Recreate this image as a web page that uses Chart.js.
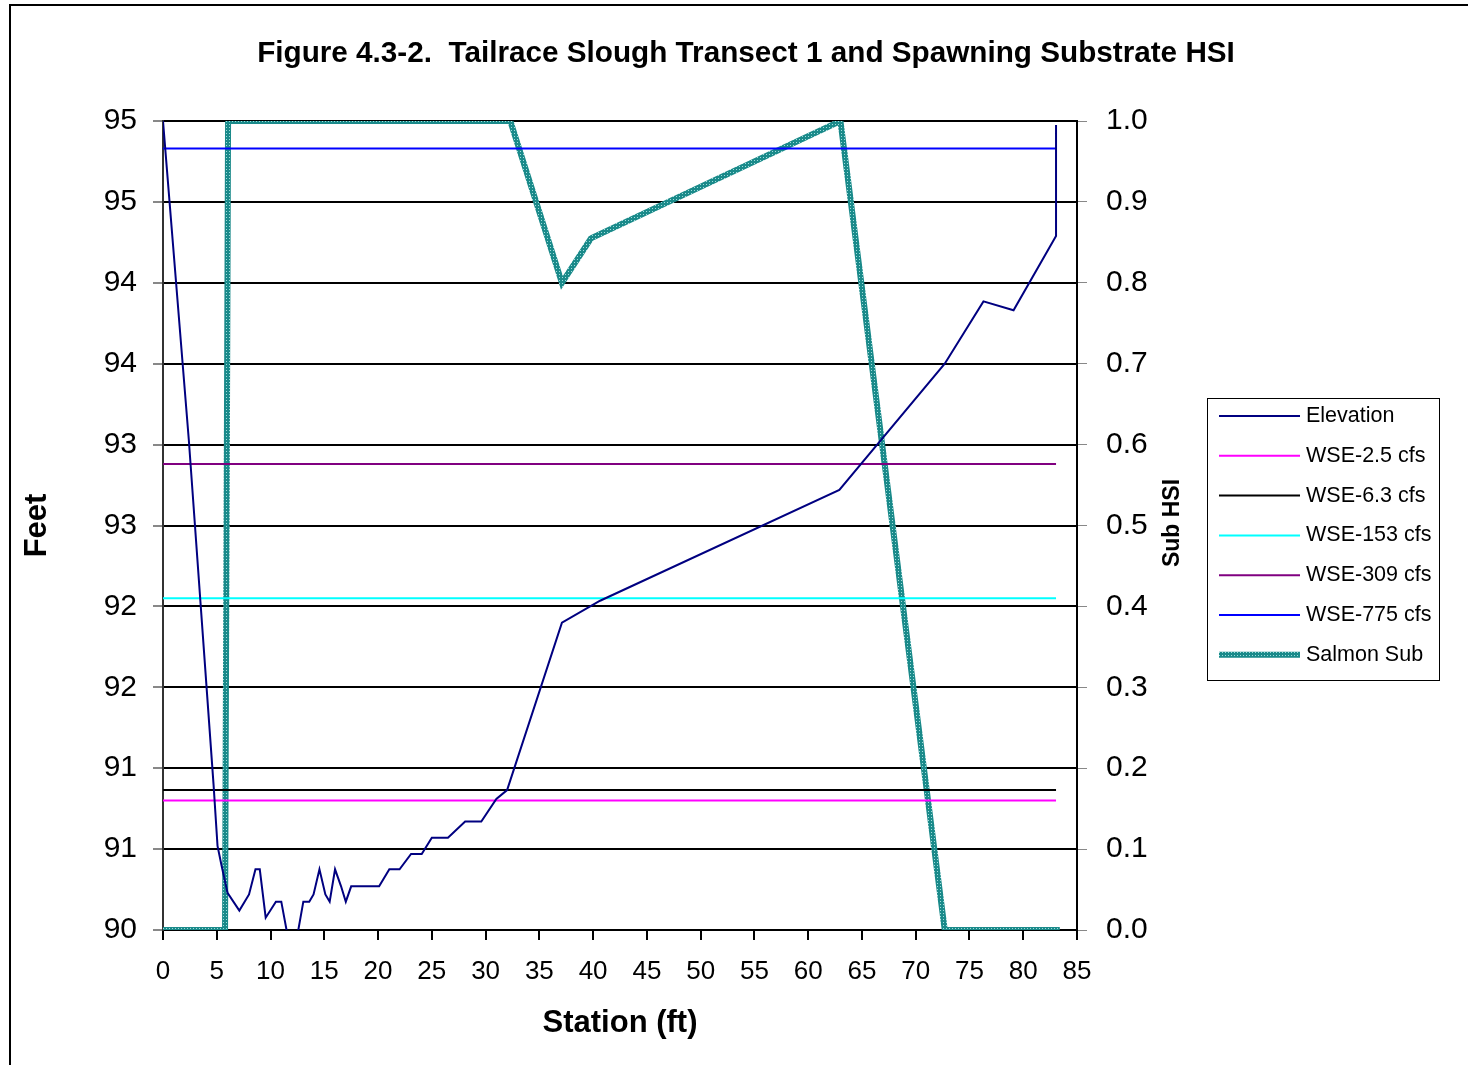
<!DOCTYPE html>
<html>
<head>
<meta charset="utf-8">
<script src="https://cdn.jsdelivr.net/npm/chart.js@4/dist/chart.umd.min.js"></script>
<style>
  html, body { margin: 0; padding: 0; background: #fff; }
  #wrap { width: 1468px; height: 1065px; }
</style>
</head>
<body>
<div id="wrap"><canvas id="chart" width="1468" height="1065"></canvas></div>
<script>
// station (ft) and elevation (ft) for the transect
const elevStations = [0, 2.4, 4.7, 5.07, 5.44, 6.0, 7.1, 8.0, 8.6, 9.0, 9.55, 10.5, 11.0, 12.05,
  13.05, 13.6, 14.0, 14.55, 15.1, 15.5, 16.0, 16.56, 17.0, 17.5, 20.1, 21.05, 22.0, 23.07, 24.06,
  25.0, 26.5, 28.1, 29.6, 31.0, 32.0, 37.1, 40.65, 62.9, 72.7, 76.3, 79.1, 83.05, 83.05];
const elevValues = [95.0, 93.03, 90.9, 90.52, 90.4, 90.23, 90.12, 90.22, 90.375, 90.375, 90.076, 90.175, 90.175, 89.8,
  90.175, 90.175, 90.22, 90.375, 90.22, 90.175, 90.375, 90.27, 90.175, 90.27, 90.27, 90.375, 90.375, 90.47, 90.47,
  90.57, 90.57, 90.67, 90.67, 90.81, 90.865, 91.9, 92.035, 92.72, 93.5, 93.885, 93.83, 94.29, 94.975];

// water surface elevations by flow
const wseStations = [0, 83.05];
const wseLabels = ["WSE-2.5 cfs", "WSE-6.3 cfs", "WSE-153 cfs", "WSE-309 cfs", "WSE-775 cfs"];
const wseLevels = [90.80, 90.865, 92.05, 92.88, 94.83];
const wseColors = ["#ff00ff", "#000000", "#00ffff", "#800080", "#0000ff"];

// spawning substrate HSI (right axis)
const subStations = [0, 5.77, 6.05, 32.3, 37.1, 39.8, 63.0, 72.7, 83.4];
const subValues = [0, 0, 1.0, 1.0, 0.8, 0.855, 1.0, 0, 0];

const chartTitle = "Figure 4.3-2.  Tailrace Slough Transect 1 and Spawning Substrate HSI";

const FONT = "'Liberation Sans', Arial, sans-serif";
Chart.defaults.font.family = FONT;
Chart.defaults.color = "#000";

function toPoints(xs, ys) {
  return xs.map((x, i) => ({ x: x, y: ys[i] }));
}

// teal hatched pattern like the excel line
function makePattern() {
  const c = document.createElement("canvas");
  c.width = 3; c.height = 3;
  const g = c.getContext("2d");
  g.fillStyle = "#1a8a8a";
  g.fillRect(0, 0, 3, 3);
  g.fillStyle = "#9fdcdc";
  g.fillRect(1, 1, 1, 1);
  return g.createPattern(c, "repeat");
}
const subPattern = makePattern();

const datasets = [{
  label: "Elevation",
  data: toPoints(elevStations, elevValues),
  borderColor: "#000080",
  borderWidth: 2,
  yAxisID: "y"
}];
wseLabels.forEach((lab, i) => {
  datasets.push({
    label: lab,
    data: toPoints(wseStations, [wseLevels[i], wseLevels[i]]),
    borderColor: wseColors[i],
    borderWidth: 2,
    yAxisID: "y"
  });
});
datasets.push({
  label: "Salmon Sub",
  data: toPoints(subStations, subValues),
  borderColor: subPattern,
  borderWidth: 6,
  yAxisID: "y2"
});

const framePlugin = {
  id: "frame",
  beforeDraw(chart) {
    const ctx = chart.ctx;
    ctx.save();
    ctx.fillStyle = "#fff";
    ctx.fillRect(0, 0, chart.width, chart.height);
    ctx.strokeStyle = "#000";
    ctx.lineWidth = 2;
    ctx.strokeRect(10, 5, 1480, 1080);
    ctx.restore();
  },
  afterDraw(chart) {
    const ctx = chart.ctx;
    ctx.save();
    ctx.fillStyle = "#000";
    ctx.font = "bold 29.7px " + FONT;
    ctx.textAlign = "center";
    ctx.textBaseline = "middle";
    ctx.fillText(chartTitle, 746, 54);
    ctx.restore();

    ctx.save();
    // right axis title, reads bottom to top
    ctx.translate(1173, 523);
    ctx.rotate(-Math.PI / 2);
    ctx.font = "bold 23px " + FONT;
    ctx.textAlign = "center";
    ctx.textBaseline = "middle";
    ctx.fillStyle = "#000";
    ctx.fillText("Sub HSI", 0, 0);
    ctx.restore();

    // legend box
    ctx.save();
    ctx.strokeStyle = "#000";
    ctx.lineWidth = 1;
    ctx.strokeRect(1207.5, 398.5, 232, 282);
    ctx.font = "21.5px " + FONT;
    ctx.textBaseline = "middle";
    ctx.fillStyle = "#000";
    chart.data.datasets.forEach((ds, i) => {
      const y = 416 + i * 39.8;
      ctx.beginPath();
      ctx.strokeStyle = ds.borderColor;
      ctx.lineWidth = ds.borderWidth;
      ctx.moveTo(1219, y);
      ctx.lineTo(1300, y);
      ctx.stroke();
      ctx.fillText(ds.label, 1306, y);
    });
    ctx.restore();
  }
};

new Chart(document.getElementById("chart"), {
  type: "line",
  data: { datasets: datasets },
  options: {
    responsive: false,
    animation: false,
    elements: { point: { radius: 0 }, line: { tension: 0 } },
    layout: { padding: { left: 16, right: 279, top: 121, bottom: 0 } },
    plugins: {
      legend: { display: false },
      tooltip: { enabled: false },
      title: { display: false }
    },
    scales: {
      x: {
        type: "linear",
        min: 0, max: 85,
        ticks: { stepSize: 5, font: { size: 26 }, padding: 16, color: "#000", maxRotation: 0 },
        grid: { drawOnChartArea: false, tickLength: 10, tickColor: "#000", lineWidth: 2 },
        border: { color: "#000", width: 2 },
        title: { display: true, text: "Station (ft)", font: { size: 31, weight: "bold" }, padding: { top: 4, bottom: 23 } },
        afterFit(scale) { scale.height = 135; }
      },
      y: {
        position: "left",
        min: 90, max: 95,
        ticks: { stepSize: 0.5, font: { size: 30 }, padding: 16, color: "#000",
          callback: v => String(Math.round(v)) },
        grid: { color: "#000", lineWidth: 2, tickLength: 10, tickColor: "#888" },
        border: { color: "#333", width: 2 },
        title: { display: true, text: "Feet", font: { size: 31, weight: "bold" }, padding: { top: 3, bottom: 4 } },
        afterFit(scale) { scale.width = 147; }
      },
      y2: {
        position: "right",
        min: 0, max: 1,
        ticks: { stepSize: 0.1, font: { size: 30 }, padding: 19, color: "#000",
          callback: v => v.toFixed(1) },
        grid: { drawOnChartArea: false, tickLength: 10, tickColor: "#888" },
        border: { color: "#000", width: 2 },
        afterFit(scale) { scale.width = 112; }
      }
    }
  },
  plugins: [framePlugin]
});
</script>
</body>
</html>
